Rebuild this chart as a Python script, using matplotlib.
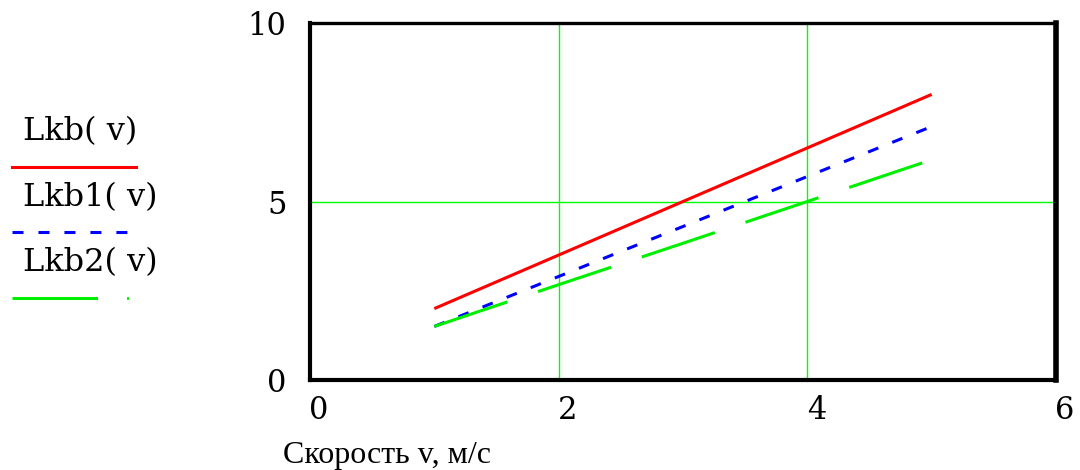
import matplotlib.pyplot as plt
from matplotlib.lines import Line2D
from matplotlib.transforms import ScaledTranslation

# данные
v = [1, 2, 3, 4, 5]
lkb = [2.0, 3.5, 5.0, 6.5, 8.0]
lkb1 = [1.5, 2.9, 4.3, 5.7, 7.1]
lkb2 = [1.5, 2.67, 3.83, 5.0, 6.17]

x_ticks = [0, 2, 4, 6]
y_ticks = [0, 5, 10]
names = ['Lkb( v)', 'Lkb1( v)', 'Lkb2( v)']
x_label = 'Скорость v, м/с'

W, H = 1080, 470
fig = plt.figure(figsize=(W / 100, H / 100), dpi=100)
ax = fig.add_axes([310 / W, 1 - 380 / H, (1056 - 310) / W, (380 - 23) / H])

lw = 2.2
ax.plot(v, lkb, color='#ff0000', lw=lw, solid_capstyle='butt', zorder=3)
ax.plot(v, lkb1, color='#0000ff', lw=lw, dashes=(3.6, 4.9), zorder=3)
ax.plot(v, lkb2, color='#00ee00', lw=lw, dashes=(25.2, 10.6), zorder=3)

ax.set_xlim(0, 6)
ax.set_ylim(0, 10)
ax.set_xticks(x_ticks)
ax.set_yticks(y_ticks)
ax.set_xticklabels([str(t) for t in x_ticks])
ax.set_yticklabels([str(t) for t in y_ticks])
ax.tick_params(length=0, labelsize=22)
ax.tick_params(axis='x', pad=11)
ax.tick_params(axis='y', pad=17)
for lab in ax.get_xticklabels() + ax.get_yticklabels():
    lab.set_family('DejaVu Serif')
for lab in ax.get_xticklabels():
    lab.set_transform(lab.get_transform() + ScaledTranslation(9 / 100, 0, fig.dpi_scale_trans))

ax.grid(True, color='#00ff00', lw=1.0)
ax.set_axisbelow(True)

ax.spines['left'].set_linewidth(3)
ax.spines['bottom'].set_linewidth(3)
ax.spines['top'].set_linewidth(2.4)
ax.spines['right'].set_linewidth(4)

fig.text(283 / W, 1 - 456 / H, x_label, family='Liberation Serif', fontsize=23,
         ha='left', va='center')

# легенда
styles = [dict(color='#ff0000', dashes=(None, None)),
          dict(color='#0000ff', dashes=(3.6, 4.9)),
          dict(color='#00ee00', dashes=(28, 9.5, 0.6, 9.5))]
text_y = [132, 198, 263]
line_y = [167, 232, 298]
for name, st, ty, ly in zip(names, styles, text_y, line_y):
    fig.text(23 / W, 1 - ty / H, name, family='DejaVu Serif', fontsize=23,
             ha='left', va='center')
    ln = Line2D([12 / W, 136 / W], [1 - ly / H, 1 - ly / H], transform=fig.transFigure,
                color=st['color'], lw=lw)
    if st['dashes'][0] is not None:
        ln.set_dashes(st['dashes'])
    fig.add_artist(ln)

fig.savefig('out.png', dpi=100)
